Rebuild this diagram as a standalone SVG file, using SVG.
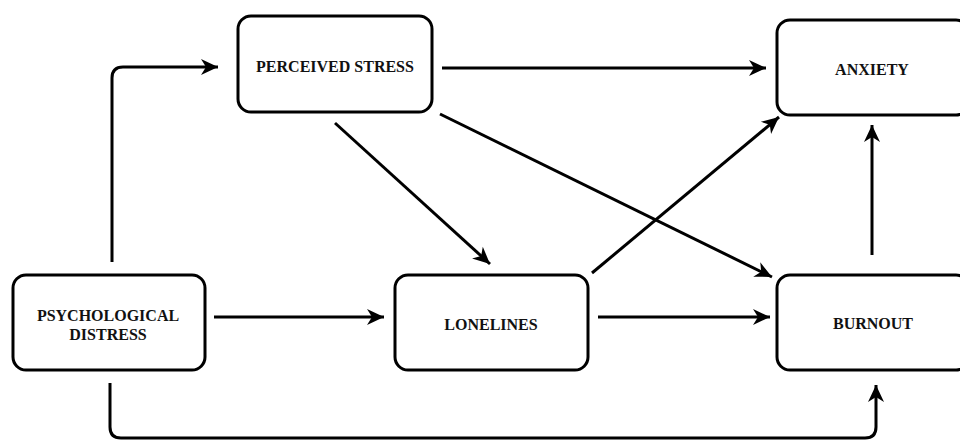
<svg xmlns="http://www.w3.org/2000/svg" width="960" height="440" viewBox="0 0 960 440">
<style>
.box{fill:#fff;stroke:#000;stroke-width:3}
.lbl{font-family:"Liberation Serif","Times New Roman",serif;font-weight:bold;font-size:16px;fill:#111;text-anchor:middle}
.con{fill:none;stroke:#000;stroke-width:3}
</style>
<defs>
<marker id="ah" markerUnits="userSpaceOnUse" markerWidth="20" markerHeight="18" viewBox="-18 -9 20 18" refX="0" refY="0" orient="auto">
<path d="M0,0 L-17,-8 L-12,0 L-17,8 Z" fill="#000"/>
</marker>
</defs>
<rect width="960" height="440" fill="#fff"/>
<g id="connectors">
<path class="con" d="M112,262 V78 Q112,67 123,67 H218" marker-end="url(#ah)"/>
<path class="con" d="M442,68 H766" marker-end="url(#ah)"/>
<path class="con" d="M335,123 L490,264" marker-end="url(#ah)"/>
<path class="con" d="M440,114 L772,277" marker-end="url(#ah)"/>
<path class="con" d="M592,273 L779,117" marker-end="url(#ah)"/>
<path class="con" d="M214,317 H384" marker-end="url(#ah)"/>
<path class="con" d="M598,317 H770" marker-end="url(#ah)"/>
<path class="con" d="M872,255 V125" marker-end="url(#ah)"/>
<path class="con" d="M110,383 V427 Q110,438 121,438 H865 Q876,438 876,427 V385" marker-end="url(#ah)"/>
</g>
<g id="psychological-distress">
<rect class="box" x="13" y="275" width="192" height="95" rx="13"/>
<text class="lbl" x="108" y="321">PSYCHOLOGICAL</text>
<text class="lbl" x="108" y="340">DISTRESS</text>
</g>
<g id="perceived-stress">
<rect class="box" x="238" y="16" width="194" height="96" rx="13"/>
<text class="lbl" x="335" y="72">PERCEIVED STRESS</text>
</g>
<g id="anxiety">
<rect class="box" x="777" y="20" width="192" height="95" rx="13"/>
<text class="lbl" x="872" y="75">ANXIETY</text>
</g>
<g id="loneliness">
<rect class="box" x="395" y="275" width="193" height="95" rx="13"/>
<text class="lbl" x="491" y="330">LONELINES</text>
</g>
<g id="burnout">
<rect class="box" x="777" y="275" width="192" height="95" rx="13"/>
<text class="lbl" x="873" y="329">BURNOUT</text>
</g>
</svg>
